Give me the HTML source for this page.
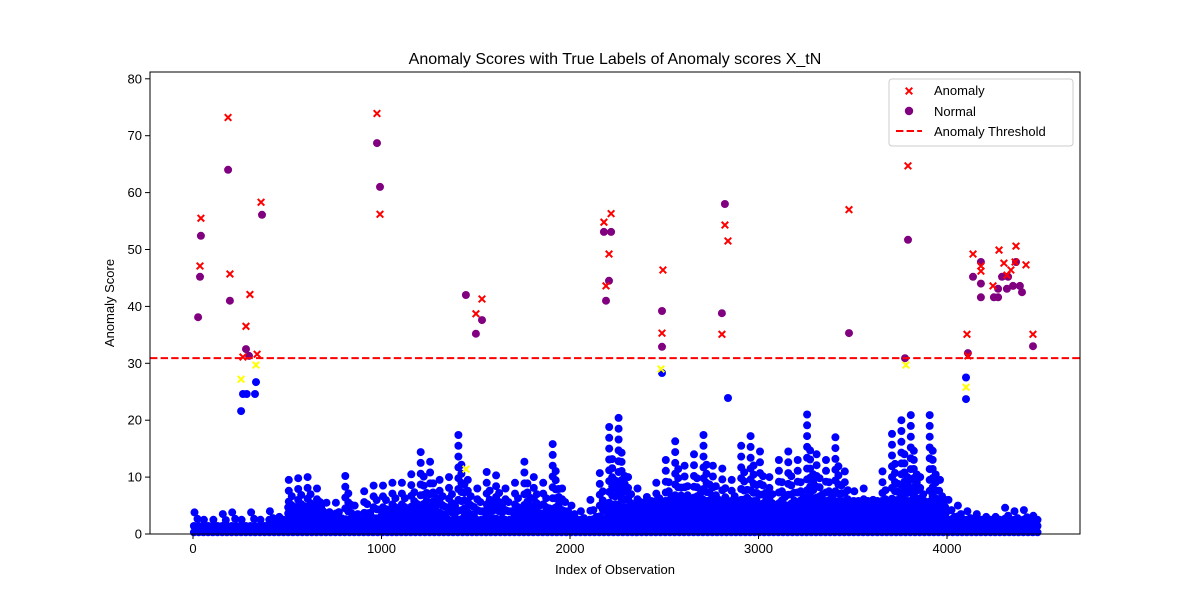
<!DOCTYPE html>
<html><head><meta charset="utf-8"><style>
body{margin:0;background:#fff;}
svg text{font-family:"Liberation Sans","DejaVu Sans",sans-serif;fill:#000;}
</style></head><body>
<svg id="chart" width="1200" height="600" xmlns="http://www.w3.org/2000/svg">
<rect width="1200" height="600" fill="#fff"/>
<g id="marks"></g>
<g id="axes"></g>
</svg>
<script>
// ---- data ----
const xTicks = [0, 1000, 2000, 3000, 4000];
const yTicks = [0, 10, 20, 30, 40, 50, 60, 70, 80];
const threshold = 30.9;
// dense base band: max score per 100-index bin
const denseMax = [2.2,2.2,2.2,2.2,2.5,5,5,3.5,3.5,3.5,4,4,4,3,3,3,3,4,4,4,3,3,5,5,6,6,6,6,6,6,5,5,5,6,6,6,6,6,6,5,2.5,2.5,2.5,2.5,2.5];
// spike envelope: max blue score per 50-index bin
const spikeMax = [3.8,2.5,2.5,3.5,3.8,2.5,3.8,2.5,4,3,9.5,9.8,10,8,5.5,5.5,10.2,5,7.5,8.5,8.5,9,9,10.5,14.4,12.7,9.5,10,17.4,9.5,8,10.9,10.3,8,9,12.7,10,9,15.8,8,5,4,6,10.7,18.8,20.4,10,8,6.5,9,13,16.3,12,14,17.4,12,11.5,9.5,15.5,17.2,14.5,10,13,14.5,13,21,14,13,17,11,7.5,8,6,11,17.6,20,20.9,10,20.9,9.5,6,5,4,3.5,3,3,4.6,4,4.2,3.2];
const blueIdx = [255,265,285,334,329,2488,2838,4101,4101,3963,3990];
const blueVal = [21.6,24.6,24.6,26.7,24.6,28.3,23.9,27.5,23.7,9.5,6];
const yellowIdx = [255,334,1448,2483,3782,4101];
const yellowVal = [27.2,29.7,11.4,29,29.7,25.8];
const normalIdx = [27,37,42,186,196,281,297,366,976,992,1448,1501,1533,2180,2218,2207,2191,2488,2488,2822,2806,3480,3793,3777,4111,4138,4180,4180,4180,4249,4271,4271,4292,4318,4324,4350,4366,4387,4398,4456];
const normalVal = [38.1,45.2,52.4,64,41,32.5,31.3,56.1,68.7,61,42,35.2,37.6,53.1,53.1,44.5,41,39.2,32.9,58,38.8,35.3,51.7,30.9,31.8,45.2,47.8,44,41.6,41.6,41.6,43.1,45.2,43.1,45.2,43.6,47.8,43.6,42.5,33];
const anomalyIdx = [37,42,186,196,302,281,265,361,340,976,992,1533,1501,2180,2218,2207,2191,2493,2488,2822,2838,2806,3480,3793,4106,4111,4138,4180,4180,4276,4302,4339,4361,4366,4419,4456,4244,4318];
const anomalyVal = [47.1,55.5,73.2,45.7,42.1,36.5,31.1,58.3,31.6,73.9,56.2,41.3,38.7,54.8,56.3,49.2,43.6,46.4,35.3,54.3,51.5,35.1,57,64.7,35.1,31.3,49.2,47.1,46.2,49.9,47.6,46.4,47.8,50.6,47.3,35.1,43.6,45.5];

// ---- scales ----
const X0=150, X1=1080, Y0=534, YT=72;
const xs = v => 193 + v*0.1885;
const ys = v => 534 - v*5.69;
const NS='http://www.w3.org/2000/svg';
const marks=document.getElementById('marks');
const axes=document.getElementById('axes');
function mk(tag, attrs, parent){const e=document.createElementNS(NS,tag);for(const k in attrs)e.setAttribute(k,attrs[k]);parent.appendChild(e);return e;}
function dot(i,v,col){const c=mk('circle',{cx:xs(i).toFixed(1),cy:ys(v).toFixed(1),r:4,fill:col},marks);return c;}
function cross(i,v,col){const x=xs(i),y=ys(v),s=3.3;
  const p=mk('path',{d:`M${x-s},${y-s}L${x+s},${y+s}M${x-s},${y+s}L${x+s},${y-s}`,stroke:col,'stroke-width':2,fill:'none'},marks);return p;}

// dense band
denseMax.forEach((m,b)=>{
  for(let k=0;k<4;k++){
    const idx=b*100+k*25+5;
    if(idx>4490)continue;
    for(let v=0.3;v<=m;v+=1.1){
      const c=dot(idx,v,'#0000ff');
      
      
    }
  }
});
// spikes
spikeMax.forEach((m,b)=>{
  const fr=[1,0.7,0.5];
  const step=[1.9,1.6,1.4];
  for(let k=0;k<3;k++){
    const idx=b*50+8+k*16;
    if(idx>4490)continue;
    const top=m*fr[k];
    for(let v=top;v>2;v-=step[k]){
      const c=dot(idx,v,'#0000ff');
      
      
    }
  }
});
blueIdx.forEach((i,n)=>{const c=dot(i,blueVal[n],'#0000ff');
  
  });
yellowIdx.forEach((i,n)=>{const c=cross(i,yellowVal[n],'#ffff00');
  
  });
normalIdx.forEach((i,n)=>{const c=dot(i,normalVal[n],'#800080');
  
  });
anomalyIdx.forEach((i,n)=>{const c=cross(i,anomalyVal[n],'#ff0000');
  
  });
// threshold
const th=mk('line',{x1:X0,x2:X1,y1:ys(threshold),y2:ys(threshold),stroke:'#ff0000','stroke-width':2,'stroke-dasharray':'7.4,3.2'},marks);



// axes frame
const fr=mk('rect',{x:X0,y:YT,width:X1-X0,height:Y0-YT,fill:'none',stroke:'#000','stroke-width':1},axes);


xTicks.forEach(t=>{const x=xs(t);
  mk('line',{x1:x,x2:x,y1:Y0,y2:Y0+5,stroke:'#000'},axes);
  const tx=mk('text',{x:x,y:Y0+19,'text-anchor':'middle','font-size':13},axes);tx.textContent=t;
  
  });
yTicks.forEach(t=>{const y=ys(t);
  mk('line',{x1:X0-5,x2:X0,y1:y,y2:y,stroke:'#000'},axes);
  const tx=mk('text',{x:X0-8,y:y+4.5,'text-anchor':'end','font-size':13},axes);tx.textContent=t;
  
  });
</script>
<svg style="position:absolute;left:0;top:0" width="1200" height="600" xmlns="http://www.w3.org/2000/svg">
<text x="615" y="64" text-anchor="middle" font-size="16">Anomaly Scores with True Labels of Anomaly scores X_tN</text>
<text x="615" y="574" text-anchor="middle" font-size="13">Index of Observation</text>
<text transform="translate(114,303) rotate(-90)" text-anchor="middle" font-size="13">Anomaly Score</text>
<g>
<rect x="889" y="79" width="184" height="67" rx="3" fill="#fff" fill-opacity="0.8" stroke="#ccc"/>
<g>
<path d="M905.7,87.7L912.3,94.3M905.7,94.3L912.3,87.7" stroke="#ff0000" stroke-width="2"/>
<text x="934" y="95" font-size="13">Anomaly</text></g>
<g>
<circle cx="909" cy="111" r="4.2" fill="#800080"/>
<text x="934" y="116" font-size="13">Normal</text></g>
<g>
<line x1="896" x2="922" y1="131" y2="131" stroke="#ff0000" stroke-width="2" stroke-dasharray="7.4,3.2"/>
<text x="934" y="136" font-size="13">Anomaly Threshold</text></g>
</g>
</svg>
</body></html>
